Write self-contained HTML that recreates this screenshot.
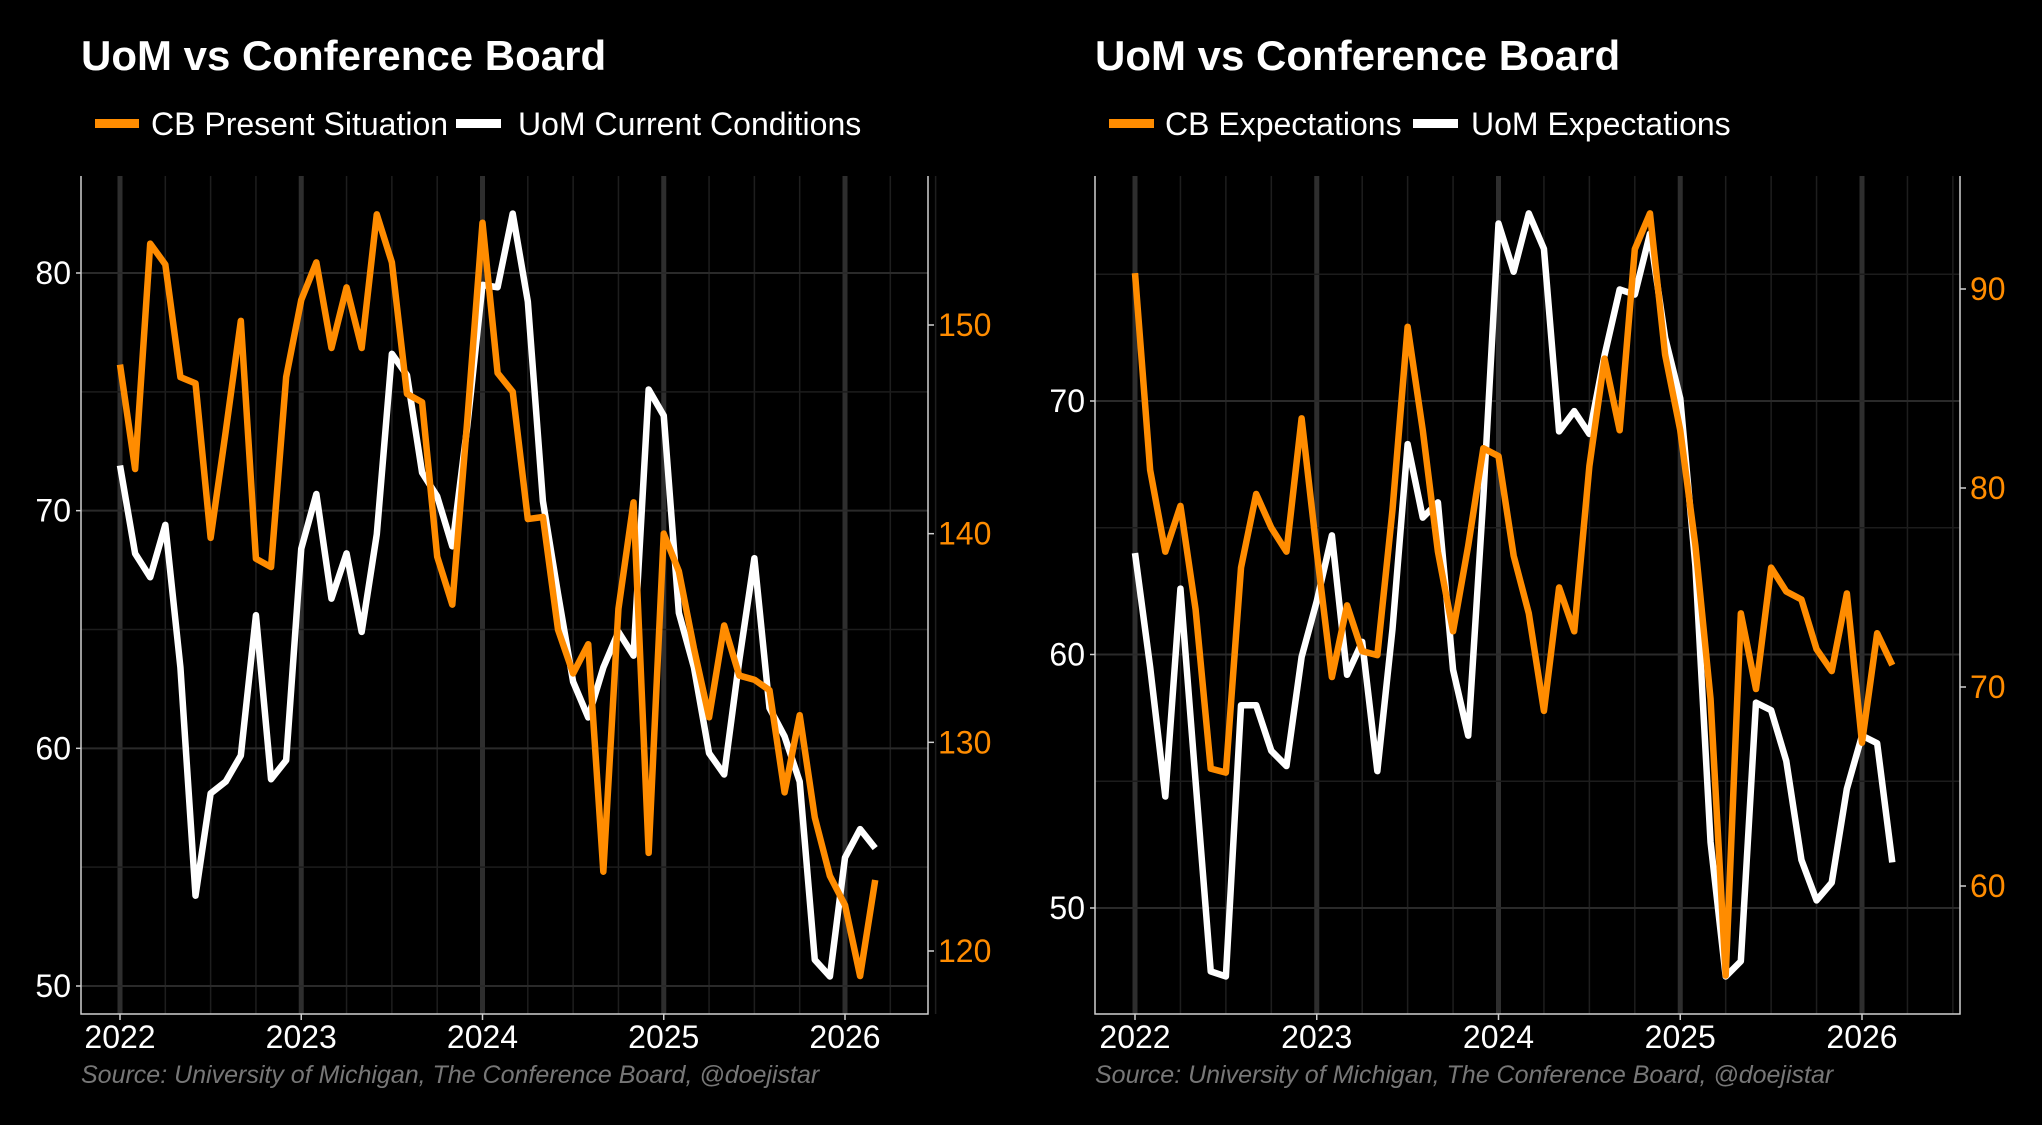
<!DOCTYPE html>
<html><head><meta charset="utf-8"><style>
html,body{margin:0;padding:0;background:#000;}
svg{display:block;font-family:"Liberation Sans",sans-serif;}
</style></head><body>
<svg id="s" width="2042" height="1125" viewBox="0 0 2042 1125">
<rect width="2042" height="1125" fill="#000"/>
<text x="81" y="70" font-size="42" font-weight="bold" fill="#fff">UoM vs Conference Board</text>
<text x="1095" y="70" font-size="42" font-weight="bold" fill="#fff">UoM vs Conference Board</text>
<g>
<rect x="95" y="119" width="44" height="9" fill="#ff8c00"/>
<text x="151" y="135" font-size="32" fill="#fff">CB Present Situation</text>
<rect x="456" y="119" width="45" height="9" fill="#fff"/>
<text x="518" y="135" font-size="32" fill="#fff">UoM Current Conditions</text>
</g>
<g>
<rect x="1109" y="119" width="45" height="9" fill="#ff8c00"/>
<text x="1133" y="135" dx="32" font-size="32" fill="#fff">CB Expectations</text>
<rect x="1413" y="119" width="45" height="9" fill="#fff"/>
<text x="1471" y="135" font-size="32" fill="#fff">UoM Expectations</text>
</g>
<text x="81" y="1083" font-size="25" font-style="italic" fill="#777">Source: University of Michigan, The Conference Board, @doejistar</text>
<text x="1095" y="1083" font-size="25" font-style="italic" fill="#777">Source: University of Michigan, The Conference Board, @doejistar</text>
<g id="p1"></g>
<g id="p2"></g>
</svg>
<script>
const years=["2022","2023","2024","2025","2026"];
const uomCurrent=[71.9,68.2,67.2,69.4,63.4,53.8,58.1,58.6,59.7,65.6,58.7,59.5,68.4,70.7,66.3,68.2,64.9,69.0,76.6,75.7,71.6,70.6,68.5,73.6,79.5,79.4,82.5,78.8,70.4,66.5,62.8,61.3,63.4,64.9,63.9,75.1,74.0,65.7,63.4,59.8,58.9,63.7,68.0,61.7,60.5,58.6,51.1,50.4,55.4,56.6,55.8];
const cbPresent=[148.1,143.1,153.9,152.9,147.5,147.2,139.8,144.9,150.2,138.8,138.4,147.5,151.2,153.0,148.9,151.8,148.9,155.3,153.0,146.7,146.3,138.9,136.6,145.5,154.9,147.7,146.8,140.7,140.8,135.4,133.3,134.7,123.8,136.4,141.5,124.7,140.0,138.2,134.5,131.2,135.6,133.2,133.0,132.5,127.6,131.3,126.4,123.6,122.2,118.8,123.4];
const uomExp=[64.0,59.5,54.4,62.6,55.0,47.5,47.3,58.0,58.0,56.2,55.6,59.9,62.1,64.7,59.2,60.5,55.4,61.0,68.3,65.4,66.0,59.4,56.8,66.2,77.0,75.1,77.4,76.0,68.8,69.6,68.7,71.8,74.4,74.2,76.6,72.5,70.1,63.5,52.6,47.3,47.9,58.1,57.8,55.8,51.9,50.3,51.0,54.7,56.8,56.5,51.8];
const cbExp=[90.8,80.9,76.8,79.1,73.9,65.9,65.7,76.0,79.7,78.0,76.8,83.5,76.8,70.5,74.1,71.8,71.6,78.9,88.1,82.9,76.8,72.8,77.1,82.0,81.6,76.6,73.7,68.8,75.0,72.8,81.1,86.5,82.9,92.0,93.8,86.7,82.9,77.1,69.4,55.5,73.7,69.9,76.0,74.8,74.4,71.9,70.8,74.7,67.2,72.7,71.1];
const leftTicks1=[50,60,70,80], rightTicks1=[120,130,140,150];
const leftTicks2=[50,60,70], rightTicks2=[60,70,80,90];
const NS="http://www.w3.org/2000/svg";
function mk(g,tag,attrs){const e=document.createElementNS(NS,tag);for(const k in attrs)e.setAttribute(k,attrs[k]);g.appendChild(e);return e;}
function panel(g,cfg){
  const xs=m=>cfg.x0+(cfg.x1-cfg.x0)*m/48;
  const yl=v=>cfg.lA.y+(v-cfg.lA.v)*(cfg.lB.y-cfg.lA.y)/(cfg.lB.v-cfg.lA.v);
  const yr=v=>cfg.rA.y+(v-cfg.rA.v)*(cfg.rB.y-cfg.rA.y)/(cfg.rB.v-cfg.rA.v);
  for(let m=0;m<=54;m+=3){const x=xs(m);const major=m%12===0;
    const l=mk(g,'line',{x1:x,x2:x,y1:cfg.top,y2:cfg.bot,stroke:major?'#2e2e2e':'#1e1e1e','stroke-width':major?5:1.5});
    }
  const lt=cfg.lt;
  for(let v=lt[0]-5;v<=lt[lt.length-1]+5;v+=5){const y=yl(v);if(y<cfg.top||y>cfg.bot)continue;
    const l=mk(g,'line',{x1:cfg.L,x2:cfg.R,y1:y,y2:y,stroke:v%10===0?'#2a2a2a':'#1c1c1c','stroke-width':v%10===0?2:1.5});
    }
  const ax=mk(g,'path',{d:`M${cfg.L},${cfg.top}V${cfg.bot}H${cfg.R}V${cfg.top}`,fill:'none',stroke:'#cfcfcf','stroke-width':1.5});
  
  lt.forEach(v=>{mk(g,'line',{x1:cfg.L-5,x2:cfg.L,y1:yl(v),y2:yl(v),stroke:'#cfcfcf','stroke-width':1.5});
    const t=mk(g,'text',{x:cfg.L-10,y:yl(v)+11,'font-size':32,fill:'#fff','text-anchor':'end'});t.textContent=v;
    });
  cfg.rt.forEach(v=>{mk(g,'line',{x1:cfg.R,x2:cfg.R+6,y1:yr(v),y2:yr(v),stroke:'#cfcfcf','stroke-width':1.5});
    const t=mk(g,'text',{x:cfg.R+10,y:yr(v)+11,'font-size':32,fill:'#ff8c00'});t.textContent=v;
    });
  years.forEach((yv,i)=>{const x=xs(i*12);mk(g,'line',{x1:x,x2:x,y1:cfg.bot,y2:cfg.bot+6,stroke:'#cfcfcf','stroke-width':1.5});
    const t=mk(g,'text',{x:x,y:cfg.bot+34,'font-size':32,fill:'#fff','text-anchor':'middle'});t.textContent=yv;
    });
  const w=mk(g,'polyline',{points:cfg.white.map((v,i)=>xs(i)+','+yl(v)).join(' '),fill:'none',stroke:'#fff','stroke-width':6.5,'stroke-linejoin':'round'});
  
  const o=mk(g,'polyline',{points:cfg.orange.map((v,i)=>xs(i)+','+yr(v)).join(' '),fill:'none',stroke:'#ff8c00','stroke-width':6.5,'stroke-linejoin':'round'});
  
}
panel(document.getElementById('p1'),{L:81,R:928,top:176,bot:1014,x0:120,x1:845,lA:{v:80,y:273},lB:{v:50,y:986},rA:{v:150,y:325},rB:{v:120,y:951},lt:leftTicks1,rt:rightTicks1,white:uomCurrent,orange:cbPresent,wn:'uom-current-line',on:'cb-present-line'});
panel(document.getElementById('p2'),{L:1095,R:1960,top:176,bot:1014,x0:1135,x1:1862,lA:{v:70,y:401},lB:{v:50,y:908},rA:{v:90,y:289},rB:{v:60,y:886},lt:leftTicks2,rt:rightTicks2,white:uomExp,orange:cbExp,wn:'uom-expectations-line',on:'cb-expectations-line'});
</script>
</body></html>
